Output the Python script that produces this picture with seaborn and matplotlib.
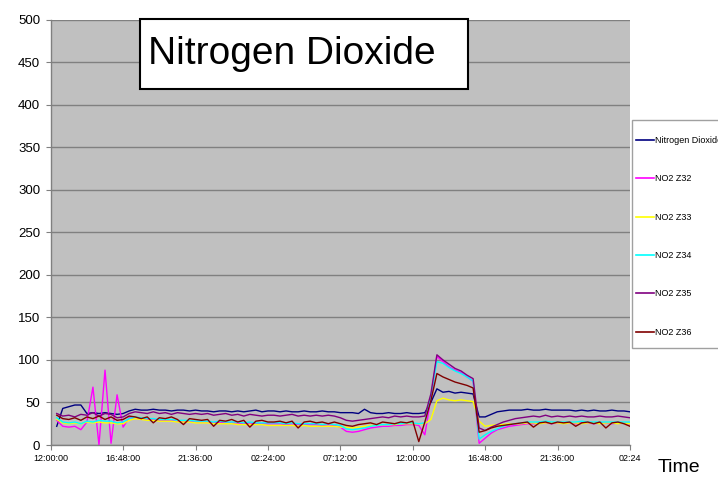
import numpy as np
import pandas as pd
import matplotlib
matplotlib.use("Agg")
import matplotlib.pyplot as plt
import matplotlib.patches as mpatches
import seaborn as sns

# sample times, hours after 12:00:00 on day 1 (one reading every 24 min)
hours = np.round(np.arange(1, 97) * 0.4, 1)

tick_hours = [0, 4.8, 9.6, 14.4, 19.2, 24.0, 28.8, 33.6, 38.4]
tick_labels = ["12:00:00", "16:48:00", "21:36:00", "02:24:00", "07:12:00",
               "12:00:00", "16:48:00", "21:36:00", "02:24"]

no2 = [22, 43, 45, 47, 47, 37, 38, 37, 38, 37, 36, 37,
       40, 42, 41, 41, 42, 41, 41, 40, 41, 41, 40, 41,
       40, 40, 39, 40, 40, 39, 40, 39, 40, 41, 39, 40,
       40, 39, 40, 39, 39, 40, 39, 39, 40, 39, 39, 38,
       38, 38, 37, 42, 38, 37, 37, 38, 37, 37, 38, 37,
       37, 38, 50, 66, 62, 63, 61, 62, 61, 60, 33, 33,
       36, 39, 40, 41, 41, 41, 42, 41, 41, 42, 41, 41,
       41, 41, 40, 41, 40, 41, 40, 40, 41, 40, 40, 39]

z32 = [29, 22, 21, 22, 18, 27, 68, 0, 88, 2, 59, 21,
       32, 32, 31, 30, 30, 29, 29, 29, 28, 28, 28, 27,
       27, 27, 26, 27, 26, 26, 26, 25, 26, 25, 25, 25,
       25, 25, 24, 25, 24, 24, 24, 24, 23, 24, 23, 21,
       16, 15, 16, 18, 20, 21, 22, 22, 23, 23, 24, 24,
       23, 12, 55, 104, 98, 92, 88, 85, 80, 75, 2, 8,
       14, 18, 20, 22, 23, 24, 25, 25, 26, 26, 25, 26,
       26, 26, 25, 26, 26, 25, 26, 26, 25, 26, 26, 25]

z33 = [30, 26, 25, 26, 25, 27, 26, 27, 26, 26, 25, 25,
       29, 31, 30, 29, 29, 28, 28, 28, 27, 27, 27, 26,
       26, 26, 25, 25, 25, 25, 24, 24, 24, 24, 24, 23,
       23, 23, 23, 23, 22, 23, 22, 22, 22, 22, 22, 21,
       21, 20, 21, 22, 23, 23, 24, 24, 24, 25, 25, 25,
       25, 25, 30, 52, 55, 53, 52, 53, 52, 51, 28, 22,
       23, 24, 24, 25, 25, 25, 26, 26, 25, 26, 26, 26,
       25, 26, 26, 25, 26, 26, 25, 26, 26, 25, 26, 25]

z34 = [32, 27, 26, 27, 25, 28, 27, 29, 28, 28, 26, 27,
       31, 33, 32, 31, 31, 30, 30, 30, 29, 29, 29, 28,
       28, 28, 27, 28, 27, 27, 27, 26, 27, 26, 26, 26,
       26, 26, 25, 26, 25, 25, 25, 25, 24, 25, 24, 23,
       19, 18, 19, 20, 22, 23, 24, 24, 25, 25, 26, 26,
       25, 26, 58, 98, 96, 91, 87, 84, 80, 75, 7, 12,
       16, 19, 22, 24, 25, 26, 27, 27, 27, 28, 27, 27,
       27, 27, 27, 28, 27, 27, 27, 27, 27, 27, 27, 27]

z35 = [37, 34, 35, 33, 36, 35, 38, 34, 37, 36, 32, 33,
       37, 39, 38, 37, 39, 37, 38, 36, 38, 37, 36, 37,
       36, 37, 35, 36, 37, 35, 36, 34, 36, 35, 34, 35,
       35, 34, 35, 36, 34, 35, 34, 35, 34, 35, 34, 32,
       29, 28, 29, 30, 31, 32, 33, 32, 34, 33, 34, 33,
       33, 34, 60, 106, 100, 95, 90, 87, 82, 78, 20, 17,
       21, 24, 27, 29, 31, 32, 33, 34, 33, 35, 33, 34,
       33, 34, 33, 34, 33, 33, 34, 33, 33, 34, 33, 32]

z36 = [35, 31, 30, 32, 29, 33, 31, 34, 30, 33, 29, 30,
       34, 33, 31, 33, 26, 32, 31, 33, 30, 24, 31, 30,
       29, 30, 22, 29, 28, 30, 27, 29, 21, 28, 29, 27,
       27, 28, 26, 28, 20, 27, 28, 26, 27, 25, 27, 25,
       23, 22, 24, 25, 26, 24, 27, 26, 25, 27, 26, 28,
       4, 27, 52, 84, 80, 77, 74, 72, 70, 67, 15, 17,
       20, 22, 23, 24, 25, 26, 27, 21, 26, 27, 25, 27,
       26, 27, 22, 26, 27, 25, 27, 20, 26, 27, 25, 22]

series = [
    ("Nitrogen Dioxide", no2, "#000080"),
    ("NO2 Z32", z32, "#FF00FF"),
    ("NO2 Z33", z33, "#FFFF00"),
    ("NO2 Z34", z34, "#00FFFF"),
    ("NO2 Z35", z35, "#800080"),
    ("NO2 Z36", z36, "#800000"),
]

plt.rcParams["font.family"] = ["Liberation Sans Narrow", "Liberation Sans", "DejaVu Sans"]

W, H = 718, 478
fig = plt.figure(figsize=(W / 100, H / 100), dpi=100)
ax = fig.add_axes([50.7 / W, 1 - 445 / H, (630 - 50.7) / W, (445 - 19.5) / H])
ax.set_facecolor("#C0C0C0")

for name, vals, color in series:
    sns.lineplot(x=hours, y=vals, ax=ax, color=color, lw=1.0, label=name)

ax.set_xlim(0, 38.4)
ax.set_ylim(0, 500)
ax.set_yticks(range(0, 501, 50))
ax.set_xticks(tick_hours)
ax.set_xticklabels(tick_labels)
ax.yaxis.grid(True, color="#808080", lw=1.0)
ax.xaxis.grid(False)
ax.set_axisbelow(True)
for s in ["top", "right"]:
    ax.spines[s].set_visible(False)
for s in ["left", "bottom"]:
    ax.spines[s].set_color("#808080")
    ax.spines[s].set_linewidth(1.0)
ax.tick_params(axis="y", length=3.5, color="#808080", labelsize=9.5, pad=4)
ax.tick_params(axis="x", length=3.5, color="#808080", labelsize=6.5, pad=3)
ax.set_xlabel("")
ax.set_ylabel("")

# title box sits over the plot area
fig.patches.append(mpatches.Rectangle((140 / W, 1 - 89 / H), 328 / W, 70 / H,
                                      transform=fig.transFigure, facecolor="white",
                                      edgecolor="black", lw=1.5, zorder=5))
fig.text(148 / W, 1 - 54 / H, "Nitrogen Dioxide", fontsize=28, va="center", ha="left",
         family=["Liberation Sans", "DejaVu Sans"], zorder=6)

# legend box (runs off the right edge)
fig.patches.append(mpatches.Rectangle((632 / W, 1 - 348 / H), 100 / W, 228 / H,
                                      transform=fig.transFigure, facecolor="white",
                                      edgecolor="#A0A0A0", lw=1.0, zorder=5))
handles, labels = ax.get_legend_handles_labels()
ax.get_legend().remove()
leg = fig.legend(handles, labels, loc="upper left", bbox_to_anchor=(636 / W, 1 - 136 / H),
                 bbox_transform=fig.transFigure, frameon=False, fontsize=6.5,
                 handlelength=2.0, handletextpad=0.15, labelspacing=3.25, borderpad=0,
                 borderaxespad=0)
leg.set_zorder(8)
for line in leg.get_lines():
    line.set_linewidth(1.2)

fig.text(658 / W, 1 - 467 / H, "Time", fontsize=14, va="center", ha="left",
         family=["Liberation Sans", "DejaVu Sans"])

fig.savefig("out.png", dpi=100)
